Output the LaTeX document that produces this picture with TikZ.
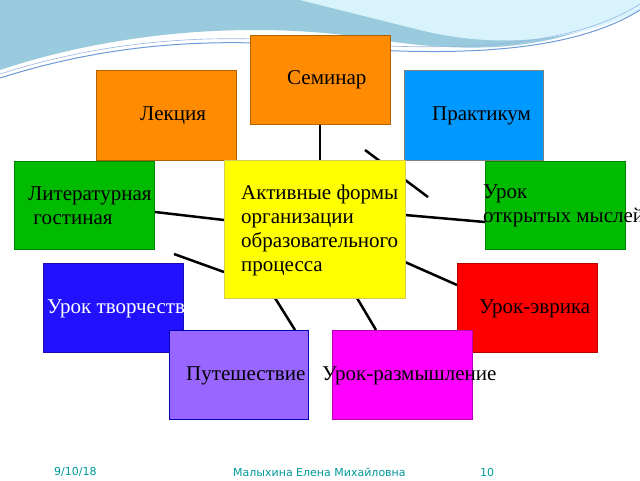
\documentclass[tikz,border=0pt]{standalone}
\usepackage{fontspec}
\setmainfont{Liberation Serif}
\newfontfamily\foot{DejaVu Sans}
\begin{document}
\begin{tikzpicture}[x=1pt,y=-1pt,
 bx/.style={draw=#1!70!black,line width=1pt},
 lbl/.style={anchor=west,font=\fontsize{21}{24}\selectfont,align=left,inner sep=0pt},
 ft/.style={anchor=west,font=\foot\fontsize{11}{13}\selectfont,text=teal!80!cyan,inner sep=0pt},
 ln/.style={line width=2.5pt}]
\useasboundingbox (0,0) rectangle (640,480);
\fill[white] (0,0) rectangle (640,480);
% wave decoration
\fill[cyan!40!teal!45] (0,0) -- (640,0) -- (640,5) .. controls (560,50) and (480,55) .. (380,40) .. controls (260,20) and (120,30) .. (0,70) -- cycle;
\fill[cyan!15] (300,0) -- (640,0) -- (640,10) .. controls (580,40) and (500,50) .. (420,30) .. controls (360,15) and (320,5) .. (300,0) -- cycle;
\draw[cyan!50!blue!60,line width=1pt] (0,78) .. controls (120,40) and (220,40) .. (300,45) .. controls (420,55) and (560,60) .. (640,10);
\draw[cyan!50!blue!40,line width=0.6pt] (0,74) .. controls (120,36) and (220,36) .. (300,41) .. controls (420,50) and (560,55) .. (640,4);
% connectors
\coordinate (a1) at (320,124); \coordinate (a2) at (320,160);
\coordinate (b1) at (365,150); \coordinate (b2) at (428,197);
\coordinate (c1) at (155,212); \coordinate (c2) at (224,220);
\coordinate (d1) at (405,215); \coordinate (d2) at (485,222);
\coordinate (e1) at (174,254); \coordinate (e2) at (224,272);
\coordinate (f1) at (405,262); \coordinate (f2) at (457,285);
\coordinate (g1) at (275,298); \coordinate (g2) at (295,330);
\coordinate (h1) at (357,298); \coordinate (h2) at (376,330);
\draw[ln] (a1)--(a2); \draw[ln] (b1)--(b2); \draw[ln] (c1)--(c2); \draw[ln] (d1)--(d2);
\draw[ln] (e1)--(e2); \draw[ln] (f1)--(f2); \draw[ln] (g1)--(g2); \draw[ln] (h1)--(h2);
% boxes
\definecolor{org}{HTML}{FF8C00}\definecolor{blu}{HTML}{0099FF}\definecolor{grn}{HTML}{00BB00}
\definecolor{ylw}{HTML}{FFFF00}\definecolor{vio}{HTML}{2211FF}\definecolor{red2}{HTML}{FF0000}
\definecolor{pur}{HTML}{9966FF}\definecolor{mag}{HTML}{FF00FF}
\filldraw[fill=org,bx=org] (250,35) rectangle (390,124);
\filldraw[fill=org,bx=org] (96,70) rectangle (236,160);
\filldraw[fill=blu,draw=gray,line width=1pt] (404,70) rectangle (543,160);
\filldraw[fill=grn,bx=grn] (14,161) rectangle (154,249);
\filldraw[fill=grn,bx=grn] (485,161) rectangle (625,249);
\filldraw[fill=vio,bx=vio] (43,263) rectangle (183,352);
\filldraw[fill=red2,bx=red2] (457,263) rectangle (597,352);
\filldraw[fill=pur,draw=blue!70!black,line width=1pt] (169,330) rectangle (308,419);
\filldraw[fill=mag,draw=mag!70!black,line width=1pt] (332,330) rectangle (472,419);
\filldraw[fill=ylw,draw=yellow!60!gray,line width=1pt] (224,160) rectangle (405,298);
% labels
\node[lbl] (sem) at (287,80) {Семинар};
\node[lbl] (lek) at (140,116) {Лекция};
\node[lbl] (pra) at (432,116) {Практикум};
\node[lbl] (lit) at (28,206) {Литературная\\\ гостиная};
\node[lbl] (uom) at (483,206) {Урок\\открытых мыслей};
\node[lbl] (cen) at (241,230) {Активные формы\\организации\\образовательного\\процесса};
\node[lbl,text=white] (utv) at (47,309) {Урок творчеств};
\node[lbl] (uev) at (479,309) {Урок-эврика};
\node[lbl] (put) at (186,376) {Путешествие};
\node[lbl] (raz) at (322,376) {Урок-размышление};
% footer
\node[ft] (dt) at (54,472) {9/10/18};
\node[ft] (au) at (233,472) {Малыхина Елена Михайловна};
\node[ft] (pg) at (480,472) {10};
\end{tikzpicture}
\end{document}
